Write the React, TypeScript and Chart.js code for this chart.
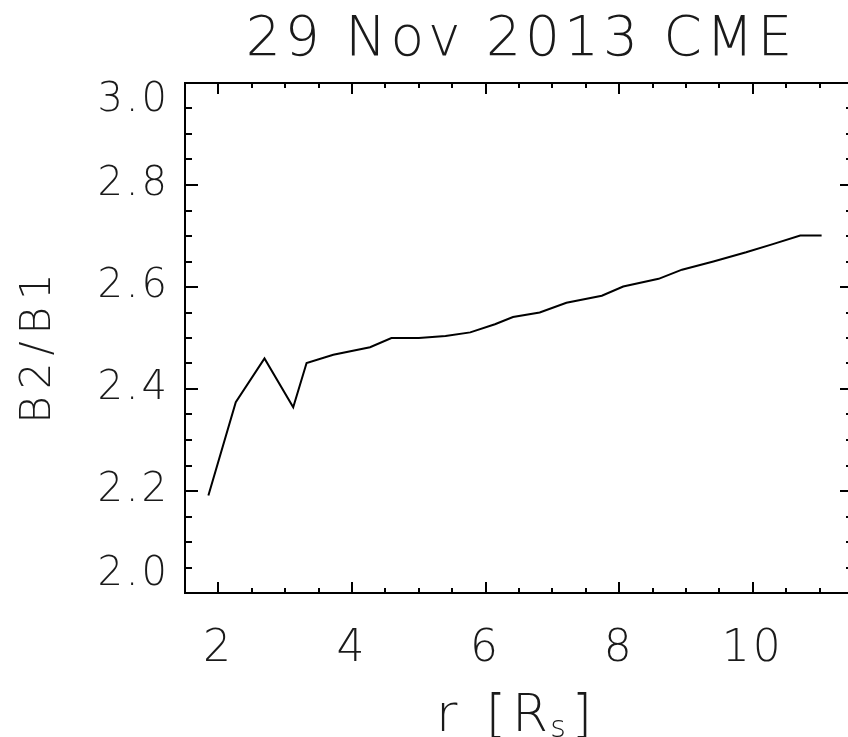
import React, { useEffect, useRef } from "react";
import { Chart, registerables } from "chart.js";

Chart.register(...registerables);

const TITLE = "29 Nov 2013 CME";
const X_LABEL_MAIN = "r [R";
const X_LABEL_SUB = "s";
const X_LABEL_END = "]";
const Y_LABEL = "B2/B1";

const R_VALUES = [1.85, 2.26, 2.69, 3.12, 3.32, 3.72, 4.27, 4.59, 5.0, 5.4, 5.77, 6.14, 6.41, 6.81, 7.21, 7.74, 8.06, 8.59, 8.94, 9.41, 9.9, 10.3, 10.71, 11.03];
const RATIO_VALUES = [2.191, 2.374, 2.46, 2.364, 2.451, 2.467, 2.482, 2.5, 2.5, 2.504, 2.511, 2.527, 2.541, 2.55, 2.569, 2.583, 2.601, 2.616, 2.634, 2.65, 2.668, 2.684, 2.701, 2.701];

const X_TICKS = [2, 4, 6, 8, 10];
const Y_TICKS = [2.0, 2.2, 2.4, 2.6, 2.8, 3.0];
const X_MIN = 1.5;
const X_MAX = 11.5;
const Y_MIN = 2.0;
const Y_MAX = 3.0;
const X_MINOR_STEP = 0.5;
const Y_MINOR_STEP = 0.05;

const FONT = "'DejaVu Sans', sans-serif";
const TEXT_COLOR = "#1a1a1a";

const framePlugin = {
  id: "idlFrame",
  beforeDraw(chart: any) {
    chart.ctx.letterSpacing = "3px";
  },
  afterDatasetsDraw(chart: any) {
    const { ctx, chartArea, scales } = chart;
    const { left, right, top, bottom } = chartArea;
    const xs = scales.x;
    const ys = scales.y;
    ctx.save();
    ctx.strokeStyle = "#000";
    ctx.lineWidth = 2;
    ctx.strokeRect(left, top, right - left, bottom - top);
    ctx.beginPath();
    const nx = Math.round((X_MAX - X_MIN) / X_MINOR_STEP);
    for (let i = 1; i < nx; i++) {
      const v = X_MIN + i * X_MINOR_STEP;
      const px = Math.round(xs.getPixelForValue(v));
      const major = X_TICKS.some((t) => Math.abs(t - v) < 1e-6);
      const len = major ? 11 : 5;
      ctx.moveTo(px, bottom);
      ctx.lineTo(px, bottom - len);
      ctx.moveTo(px, top);
      ctx.lineTo(px, top + len);
    }
    const ny = Math.round((Y_MAX - Y_MIN) / Y_MINOR_STEP);
    for (let i = 1; i < ny; i++) {
      const v = Y_MIN + i * Y_MINOR_STEP;
      const py = Math.round(ys.getPixelForValue(v));
      const major = Y_TICKS.some((t) => Math.abs(t - v) < 1e-6);
      const len = major ? 13 : 7;
      ctx.moveTo(left, py);
      ctx.lineTo(left + len, py);
      ctx.moveTo(right, py);
      ctx.lineTo(right - len, py);
    }
    ctx.stroke();
    ctx.restore();
  },
  afterDraw(chart: any) {
    const { ctx, chartArea } = chart;
    const cx = (chartArea.left + chartArea.right) / 2;
    const cy = (chartArea.top + chartArea.bottom) / 2;
    ctx.save();
    ctx.fillStyle = TEXT_COLOR;
    ctx.textBaseline = "alphabetic";
    ctx.textAlign = "center";

    // chart title
    ctx.letterSpacing = "4px";
    ctx.font = `200 55px ${FONT}`;
    ctx.fillText(TITLE, cx + 2, 55);

    // y-axis title (rotated)
    ctx.save();
    ctx.letterSpacing = "7px";
    ctx.font = `200 42px ${FONT}`;
    ctx.translate(50, cy + 10);
    ctx.rotate(-Math.PI / 2);
    ctx.fillText(Y_LABEL, 3, 0);
    ctx.restore();

    // x-axis title with subscript
    ctx.letterSpacing = "6px";
    ctx.textAlign = "left";
    ctx.font = `200 52px ${FONT}`;
    const wMain = ctx.measureText(X_LABEL_MAIN).width;
    const wEnd = ctx.measureText(X_LABEL_END).width;
    ctx.font = `200 30px ${FONT}`;
    const wSub = ctx.measureText(X_LABEL_SUB).width;
    const total = wMain + wSub + wEnd;
    let x0 = cx - total / 2;
    const base = 731;
    ctx.font = `200 52px ${FONT}`;
    ctx.fillText(X_LABEL_MAIN, x0, base);
    x0 += wMain - 4;
    ctx.font = `200 30px ${FONT}`;
    ctx.fillText(X_LABEL_SUB, x0, base + 6);
    x0 += wSub;
    ctx.font = `200 52px ${FONT}`;
    ctx.fillText(X_LABEL_END, x0, base);
    ctx.restore();
    ctx.letterSpacing = "0px";
  },
};

export default function App() {
  const canvasRef = useRef<HTMLCanvasElement | null>(null);

  useEffect(() => {
    const canvas = canvasRef.current;
    if (!canvas) return;
    const data = R_VALUES.map((r, i) => ({ x: r, y: RATIO_VALUES[i] }));
    const chart = new Chart(canvas, {
      type: "line",
      data: {
        datasets: [
          {
            data,
            borderColor: "#000",
            borderWidth: 2,
            pointRadius: 0,
            tension: 0,
            fill: false,
          },
        ],
      },
      options: {
        animation: false,
        responsive: false,
        maintainAspectRatio: false,
        layout: { padding: { top: 83, right: 17, bottom: 0, left: 0 } },
        plugins: {
          legend: { display: false },
          tooltip: { enabled: false },
          title: { display: false },
        },
        scales: {
          x: {
            type: "linear",
            min: X_MIN,
            max: X_MAX,
            grid: { display: false, drawTicks: false },
            border: { display: false },
            afterBuildTicks: (scale: any) => {
              scale.ticks = X_TICKS.map((v) => ({ value: v }));
            },
            afterFit: (scale: any) => {
              scale.height = 144;
            },
            ticks: {
              color: TEXT_COLOR,
              padding: 30,
              maxRotation: 0,
              autoSkip: false,
              font: { family: FONT, size: 44, weight: "200", lineHeight: 1.2 },
              callback: (v: any) => String(v),
            },
          },
          y: {
            type: "linear",
            min: Y_MIN,
            max: Y_MAX,
            grid: { display: false, drawTicks: false },
            border: { display: false },
            afterBuildTicks: (scale: any) => {
              scale.ticks = Y_TICKS.map((v) => ({ value: v }));
            },
            afterFit: (scale: any) => {
              scale.width = 185;
            },
            title: { display: false },
            ticks: {
              color: TEXT_COLOR,
              padding: 15,
              autoSkip: false,
              font: { family: FONT, size: 40, weight: "200", lineHeight: 0.9 },
              callback: (v: any) => {
                const s = Number(v).toFixed(1);
                if (Math.abs(v - Y_MAX) < 1e-6) return ["", s];
                if (Math.abs(v - Y_MIN) < 1e-6) return [s, ""];
                return s;
              },
            },
          },
        },
      },
      plugins: [framePlugin],
    });
    return () => chart.destroy();
  }, []);

  return (
    <div
      style={{
        position: "fixed",
        left: 0,
        top: 0,
        width: 848,
        height: 737,
        overflow: "hidden",
        background: "#fff",
      }}
    >
      <canvas ref={canvasRef} width={870} height={737} style={{ display: "block" }} />
    </div>
  );
}
